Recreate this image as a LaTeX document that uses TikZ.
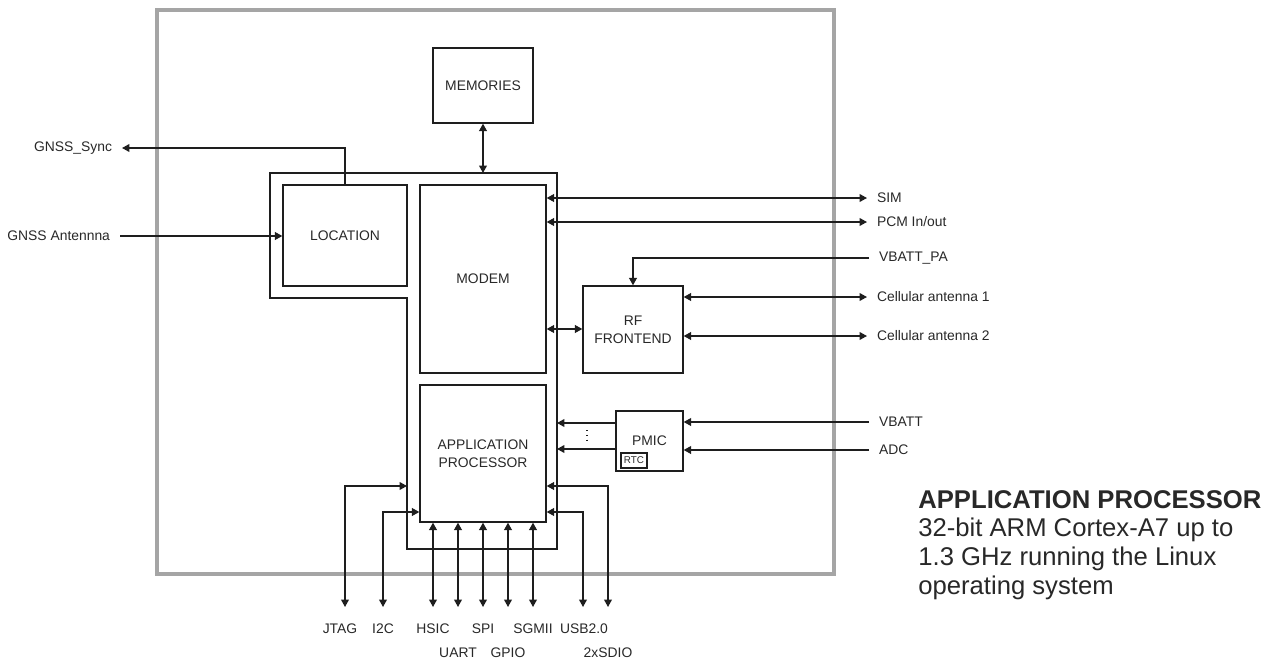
\documentclass[tikz,border=0pt]{standalone}
\usepackage{fontspec}
\setmainfont{Liberation Sans}
\usetikzlibrary{arrows.meta, positioning}
\definecolor{cLine}{RGB}{30,30,30}
\definecolor{cText}{RGB}{40,40,40}
\definecolor{cFrame}{RGB}{165,165,165}
\newcommand{\blkfont}{\fontsize{7.9}{10.2}\selectfont}
\newcommand{\rtcfont}{\fontsize{5.6}{6}\selectfont}
\newcommand{\infofont}{\fontsize{14.6}{16.3}\selectfont}
\tikzset{
  %% functional blocks
  blk/.style={rectangle, draw=cLine, line width=0.75pt, inner sep=0pt,
              text=cText, font=\blkfont},
  blkTwo/.style={blk, align=center},
  %% module frame and group outline
  frame/.style={draw=cFrame, line width=2.2pt},
  grp/.style={draw=cLine, line width=0.75pt},
  %% signal lines
  wire/.style={draw=cLine, line width=0.75pt},
  sig/.style={wire, -{Triangle[length=4.2pt,width=4.4pt]}},
  dbl/.style={wire, {Triangle[length=4.2pt,width=4.4pt]}-{Triangle[length=4.2pt,width=4.4pt]}},
  %% pin labels
  lbl/.style={font=\blkfont, text=cText, inner xsep=5.5pt, inner ysep=1pt},
  pinlbl/.style={font=\blkfont, text=cText, inner sep=1pt},
}

\begin{document}
\begin{tikzpicture}[x=0.02cm, y=-0.02cm]
\useasboundingbox (0,0) rectangle (1275,666);

%% ============================================================
%%  MODULE FRAME + GROUP OUTLINE
%% ============================================================
\draw[frame] (157,10) rectangle (834,574);
\draw[grp] (270,173) -- (557,173) -- (557,549) -- (407,549)
  -- (407,298) -- (270,298) -- cycle;

%% ----- Blocks -----
\node[blk, minimum width=2cm, minimum height=1.5cm]     (mem)   at (483,85.5)  {MEMORIES};
\node[blk, minimum width=2.48cm, minimum height=2.02cm] (loc)   at (345,235.5) {LOCATION};
\node[blk, minimum width=2.52cm, minimum height=3.76cm] (modem) at (483,279)   {MODEM};
\node[blkTwo, minimum width=2.52cm, minimum height=2.74cm] (app) at (483,453.5) {APPLICATION\\PROCESSOR};
\node[blkTwo, minimum width=2cm, minimum height=1.74cm] (rf)    at (633,329.5) {RF\\FRONTEND};
\node[blk, minimum width=1.34cm, minimum height=1.2cm]  (pmic)  at (649.5,441)  {PMIC};
\node[blk, font=\rtcfont, line width=0.6pt, minimum width=0.52cm,
      minimum height=0.3cm] (rtc) at (634,460.5) {RTC};

%% ============================================================
%%  LEFT SIDE -- GNSS
%% ============================================================
\node[lbl, anchor=east] (gsync) at (122,148) {GNSS\_Sync};
\node[lbl, anchor=east] (gant)  at (120,236) {GNSS Antennna};

\draw[sig] (loc.north) |- (gsync.east);
\draw[sig] (gant.east) -- (loc.west |- gant.east);

%% memories <-> group
\coordinate (grpTop) at (483,173);
\draw[dbl] (mem.south) -- (grpTop);

%% ============================================================
%%  RIGHT SIDE -- SIM / PCM / RF / PMIC
%% ============================================================
\node[lbl, anchor=west] (sim)  at (867,198) {SIM};
\node[lbl, anchor=west] (pcm)  at (867,222) {PCM In/out};
\node[lbl, anchor=west] (vpa)  at (869,258) {VBATT\_PA};
\node[lbl, anchor=west] (ant1) at (867,297) {Cellular antenna 1};
\node[lbl, anchor=west] (ant2) at (867,336) {Cellular antenna 2};
\node[lbl, anchor=west] (vbat) at (869,422) {VBATT};
\node[lbl, anchor=west] (adc)  at (869,450) {ADC};

\draw[dbl] (modem.east |- sim.west) -- (sim.west);
\draw[dbl] (modem.east |- pcm.west) -- (pcm.west);
\draw[sig] (vpa.west) -| (rf.north);
\draw[dbl] (rf.east |- ant1.west) -- (ant1.west);
\draw[dbl] (rf.east |- ant2.west) -- (ant2.west);

\coordinate (mr) at (0,329);
\draw[dbl] (modem.east |- mr) -- (rf.west |- mr);

\draw[sig] (vbat.west) -- (pmic.east |- vbat.west);
\draw[sig] (adc.west) -- (pmic.east |- adc.west);

%% pmic -> application processor group
\coordinate (pA) at (557,423);
\coordinate (pB) at (557,449);
\draw[sig] (pmic.west |- pA) -- (pA);
\draw[sig] (pmic.west |- pB) -- (pB);
\draw[wire, dotted] (587,430) -- (587,443);

%% ============================================================
%%  BOTTOM -- APPLICATION PROCESSOR INTERFACES
%% ============================================================
\foreach \nm/\x in {jtag/345, i2c/383, hsic/433, uart/458, spi/483,
                    gpio/508, sgmii/533, usb/583, sdio/608} {
  \coordinate (\nm End) at (\x,607);
}
\node[pinlbl] (jtagL)  at (340,629) {JTAG};
\node[pinlbl] (i2cL)   at (383,629) {I2C};
\node[pinlbl] (hsicL)  at (433,629) {HSIC};
\node[pinlbl] (uartL)  at (458,653) {UART};
\node[pinlbl] (spiL)   at (483,629) {SPI};
\node[pinlbl] (gpioL)  at (508,653) {GPIO};
\node[pinlbl] (sgmiiL) at (533,629) {SGMII};
\node[pinlbl] (usbL)   at (584,629) {USB2.0};
\node[pinlbl] (sdioL)  at (608,653) {2xSDIO};

\coordinate (jtagIn) at (407,486);
\draw[dbl] (jtagIn) -| (jtagEnd);
\draw[dbl] (app.west |- 0,512) -| (i2cEnd);
\foreach \nm in {hsic, uart, spi, gpio, sgmii} {
  \draw[dbl] (app.south -| \nm End) -- (\nm End);
}
\draw[dbl] (app.east |- 0,512) -| (usbEnd);
\draw[dbl] (app.east |- 0,486) -| (sdioEnd);

%% ============================================================
%%  CAPTION (right side)
%% ============================================================
\node[anchor=north west, align=left, inner sep=0pt, text=cText,
      font=\infofont] (apinfo) at (918,490) {%
  \textbf{APPLICATION PROCESSOR}\\
  32-bit ARM Cortex-A7 up to\\
  1.3 GHz running the Linux\\
  operating system
};

\end{tikzpicture}
\end{document}
